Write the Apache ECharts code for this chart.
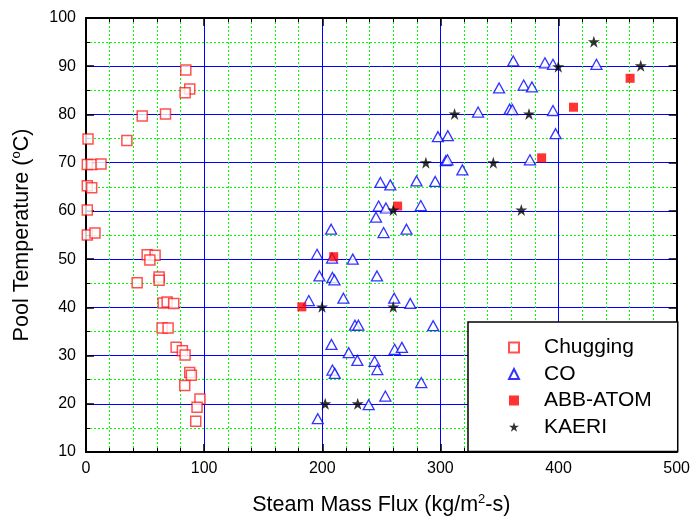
<!DOCTYPE html>
<html>
<head>
<meta charset="utf-8">
<script src="https://cdn.jsdelivr.net/npm/echarts@6/dist/echarts.min.js"></script>
<style>html,body{margin:0;padding:0;background:#fff}#c{width:693px;height:523px}</style>
</head>
<body>
<div id="c"></div>
<script>
// ---- data ----
var xTicks = [0, 100, 200, 300, 400, 500];
var yTicks = [10, 20, 30, 40, 50, 60, 70, 80, 90, 100];
var seriesNames = ['Chugging', 'CO', 'ABB-ATOM', 'KAERI'];

var chugging = [
  [84.5, 89.2], [87.8, 85.3], [83.9, 84.5], [47.6, 79.7], [67.3, 80.1],
  [1.7, 74.9], [34.6, 74.6], [1.1, 69.6], [4.8, 69.6], [12.7, 69.7],
  [1.1, 65.2], [4.8, 64.8], [1.1, 60.2], [1.1, 55.0], [7.6, 55.4],
  [51.8, 50.9], [58.5, 50.8], [54.1, 49.8], [43.3, 45.1], [61.9, 46.3],
  [61.9, 45.6], [65.3, 40.9], [68.7, 41.1], [74.3, 40.8], [64.4, 35.7],
  [69.5, 35.7], [76.3, 31.7], [81.6, 31.0], [83.9, 30.1], [87.8, 26.5],
  [89.2, 25.9], [83.6, 23.8], [96.5, 21.0], [94.0, 19.3], [92.9, 16.4]
];

var co = [
  [361.7, 91.1], [388.5, 90.7], [395.3, 90.4], [432.1, 90.4], [349.7, 85.5],
  [370.5, 86.1], [377.5, 85.7], [331.9, 80.5], [358.6, 81.1], [360.9, 81.0],
  [395.3, 80.8], [297.9, 75.4], [306.3, 75.6], [397.5, 76.0], [304.6, 70.4],
  [306.0, 70.6], [375.8, 70.6], [318.6, 68.5], [249.2, 65.9], [257.6, 65.4],
  [279.8, 66.2], [295.6, 66.1], [247.7, 61.0], [253.9, 60.6], [283.4, 61.1],
  [245.5, 58.7], [207.5, 56.2], [251.9, 55.5], [271.3, 56.2], [195.6, 51.0],
  [208.3, 50.2], [225.8, 50.0], [197.6, 46.5], [208.6, 46.2], [210.3, 45.7],
  [246.3, 46.5], [188.6, 41.4], [217.9, 41.9], [260.9, 41.9], [274.5, 40.8],
  [227.7, 36.3], [230.6, 36.3], [293.9, 36.2], [207.8, 32.3], [222.4, 30.6],
  [229.7, 29.0], [261.3, 31.3], [267.4, 31.7], [244.3, 28.8], [246.6, 27.1],
  [208.6, 27.0], [210.6, 26.3], [283.8, 24.4], [253.4, 21.6], [239.3, 19.8],
  [196.2, 16.9]
];

var abbAtom = [
  [182.7, 40.1], [209.7, 50.5], [263.8, 61.0], [385.7, 71.0], [412.7, 81.5], [460.6, 87.5]
];

var kaeri = [
  [199.8, 40.1], [202.5, 20.0], [230.0, 20.0], [260.1, 40.1], [260.1, 60.2],
  [287.7, 70.0], [312.0, 80.1], [344.8, 70.0], [368.5, 60.2], [375.0, 80.1],
  [399.8, 89.9], [429.9, 95.1], [469.6, 90.1]
];

// ---- chart ----
var FONT = '"Liberation Sans", Arial, sans-serif';
var STAR = 'path://M50,0 L61.2,34.5 L97.6,34.5 L68.2,55.9 L79.4,90.5 L50,69.1 L20.6,90.5 L31.8,55.9 L2.4,34.5 L38.8,34.5 Z';

var chart = echarts.init(document.getElementById('c'), null, {renderer: 'canvas'});

function baseAxis(extra) {
  var a = {
    axisLine: {show: true, onZero: false, lineStyle: {color: '#000', width: 2}},
    axisTick: {show: true, inside: true, length: 8, lineStyle: {color: '#000', width: 1.5}},
    minorTick: {show: true, length: 4, lineStyle: {color: '#000', width: 1}},
    axisLabel: {show: false},
    splitLine: {show: false},
    minorSplitLine: {show: false}
  };
  for (var k in extra) a[k] = extra[k];
  return a;
}

var nameRich = {sup: {fontSize: 13, verticalAlign: 'top', padding: [0, 0, 11, 0], fontFamily: FONT, color: '#000'}};

var xMain = baseAxis({
  type: 'value', position: 'bottom', min: xTicks[0], max: xTicks[xTicks.length - 1], interval: 100,
  axisLabel: {show: true, color: '#000', fontSize: 16, fontFamily: FONT, margin: 9},
  splitLine: {show: true, lineStyle: {color: '#0000ff', width: 1}},
  minorSplitLine: {show: true, lineStyle: {color: '#00ff00', width: 1, type: [2, 2]}},
  name: 'Steam Mass Flux (kg/m{sup|2}-s)',
  nameLocation: 'middle', nameGap: 41,
  nameTextStyle: {color: '#000', fontSize: 21.5, fontFamily: FONT, rich: nameRich}
});
xMain.minorTick.splitNumber = 5;

var xTop = baseAxis({type: 'value', position: 'top', min: 0, max: 500, interval: 100});
xTop.minorTick.splitNumber = 5;

var yMain = baseAxis({
  type: 'value', position: 'left', min: yTicks[0], max: yTicks[yTicks.length - 1], interval: 10,
  axisLabel: {show: true, color: '#000', fontSize: 16, fontFamily: FONT, margin: 10},
  splitLine: {show: true, lineStyle: {color: '#0000ff', width: 1}},
  minorSplitLine: {show: true, lineStyle: {color: '#00ff00', width: 1, type: [2, 2]}},
  name: 'Pool Temperature ({sup|o}C)',
  nameLocation: 'middle', nameGap: 52,
  nameTextStyle: {color: '#000', fontSize: 21.5, fontFamily: FONT, rich: nameRich}
});
yMain.minorTick.splitNumber = 2;

var yRight = baseAxis({type: 'value', position: 'right', min: 10, max: 100, interval: 10});
yRight.minorTick.splitNumber = 2;

chart.setOption({
  animation: false,
  backgroundColor: '#fff',
  grid: {left: 86, right: 15, top: 18, bottom: 71, containLabel: false},
  xAxis: [xMain, xTop],
  yAxis: [yMain, yRight],
  legend: {
    data: seriesNames,
    orient: 'vertical',
    left: 468, top: 322,
    padding: [15, 26, 14, 40],
    backgroundColor: '#fff',
    borderColor: '#000', borderWidth: 1.5,
    itemWidth: 10, itemHeight: 10, itemGap: 5.5,
    textStyle: {color: '#000', fontSize: 21, fontFamily: FONT, lineHeight: 21, padding: [0, 0, 0, 20]}
  },
  series: [
    {name: seriesNames[0], type: 'scatter', data: chugging, symbol: 'rect', symbolSize: 10,
     itemStyle: {color: '#fff', borderColor: 'rgba(255,0,0,0.85)', borderWidth: 1.5}, z: 3},
    {name: seriesNames[1], type: 'scatter', data: co, symbol: 'triangle', symbolSize: [11, 10],
     itemStyle: {color: '#fff', borderColor: '#0000ff', borderWidth: 1.3}, z: 3},
    {name: seriesNames[2], type: 'scatter', data: abbAtom, symbol: 'rect', symbolSize: 9,
     itemStyle: {color: '#ff0000', borderWidth: 0}, z: 4},
    {name: seriesNames[3], type: 'scatter', data: kaeri, symbol: STAR, symbolSize: 12,
     itemStyle: {color: '#000', borderWidth: 0}, z: 5}
  ]
});
</script>
</body>
</html>
